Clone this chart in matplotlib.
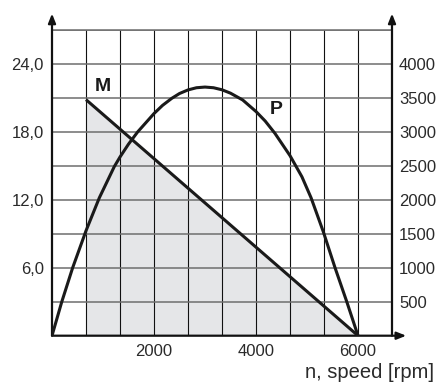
import matplotlib
matplotlib.use("Agg")
import matplotlib.pyplot as plt

plt.rcParams['font.family'] = ['Liberation Sans', 'DejaVu Sans']

# torque M (left axis) -- straight line from 666.67 rpm down to 0 at 6000 rpm
m_speed = [666.67, 6000]
m_torque = [20.85, 0.0]

# power P (right axis)
p_speed = [0, 190, 405, 667, 928, 1222, 1333, 1500, 1680, 2000, 2167, 2350, 2500,
           2667, 2833, 3000, 3167, 3333, 3500, 3739, 4000, 4180, 4370, 4667, 4900,
           5080, 5320, 5550, 5780, 6000]
p_power = [0, 495, 1000, 1545, 2030, 2490, 2630, 2820, 3000, 3270, 3390, 3495, 3565,
           3618, 3650, 3660, 3650, 3620, 3570, 3470, 3300, 3160, 2980, 2650, 2340,
           2030, 1530, 1000, 500, 0]

left_ticks = [6, 12, 18, 24]
left_labels = ["6,0", "12,0", "18,0", "24,0"]
right_ticks = [500, 1000, 1500, 2000, 2500, 3000, 3500, 4000]
x_ticks = [2000, 4000, 6000]

XMAX = 6666.67
YMAX = 27.0
RMAX = 4500.0
INK = "#1a1a1a"
TXT = "#2a2a2a"

fig = plt.figure(figsize=(4.39, 3.87), dpi=100)
W, H = 439, 387
ax = fig.add_axes([52 / W, (H - 335.7) / H, 340 / W, 305.7 / H])
ax.set_xlim(0, XMAX)
ax.set_ylim(0, YMAX)

# shaded area under M
ax.fill_between(m_speed, m_torque, 0, color="#e5e6e8", lw=0, zorder=1)

# grid
for k in range(1, 10):
    ax.axvline(k * XMAX / 10, color="#111111", lw=0.8, zorder=2)
for k in range(1, 10):
    ax.axhline(k * 3.0, color="#6e6e6e", lw=1.1, zorder=2)
ax.axhline(YMAX, color="#6e6e6e", lw=1.1, zorder=2, clip_on=False)

# curves
ax.plot(m_speed, m_torque, color=INK, lw=2.2, zorder=4, solid_capstyle="butt")
ax2 = ax.twinx()
ax2.set_ylim(0, RMAX)
ax2.plot(p_speed, p_power, color=INK, lw=2.2, zorder=4, solid_joinstyle="round")

ax.text(1000, 22.0, "M", fontsize=14, fontweight="bold", color=INK, ha="center", va="center")
ax2.text(4390, 3330, "P", fontsize=14, fontweight="bold", color=INK, ha="center", va="center")

# axes look
for a in (ax, ax2):
    for s in a.spines.values():
        s.set_visible(False)
    a.tick_params(length=0)
ax.set_xticks(x_ticks)
ax.set_xticklabels([str(v) for v in x_ticks], fontsize=12, color=TXT)
ax.set_yticks(left_ticks)
ax.set_yticklabels(left_labels, fontsize=12, color=TXT)
ax2.set_yticks(right_ticks)
ax2.set_yticklabels([str(v) for v in right_ticks], fontsize=12, color=TXT)
ax.tick_params(axis="x", pad=6)
ax.tick_params(axis="y", pad=6)
ax2.tick_params(axis="y", pad=5)

arrow = dict(arrowstyle="-|>,head_length=0.55,head_width=0.22", color="#111111", lw=1.6,
             shrinkA=0, shrinkB=0)
ax.annotate("", xy=(0, 28.45), xytext=(0, 0), arrowprops=arrow, annotation_clip=False)
ax.annotate("", xy=(XMAX, 28.45), xytext=(XMAX, 0), arrowprops=arrow, annotation_clip=False)
ax.annotate("", xy=(6945, 0), xytext=(0, 0), arrowprops=arrow, annotation_clip=False)

fig.text(434 / W, 1 - 373 / H, "n, speed [rpm]", fontsize=14.5, color=TXT, ha="right", va="center")

fig.savefig("out.png", dpi=100)
